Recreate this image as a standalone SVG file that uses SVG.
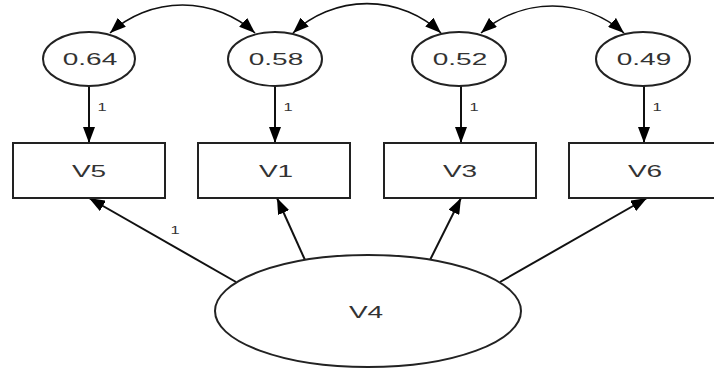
<svg xmlns="http://www.w3.org/2000/svg" width="714" height="368" viewBox="0 0 714 368">
  <style>
    .node { fill: #ffffff; stroke: #222222; stroke-width: 2; }
    .lbl { font-family: "Liberation Sans", Arial, sans-serif; font-size: 16px; fill: #333333; text-anchor: middle; }
    .small { font-family: "Liberation Sans", Arial, sans-serif; font-size: 11px; fill: #333333; text-anchor: middle; }
    .edge { fill: none; stroke: #111111; stroke-width: 2; }
    .cov { fill: none; stroke: #111111; stroke-width: 1.6; }
  </style>
  <defs>
    <marker id="arrow" viewBox="0 0 16 12" refX="16" refY="6" markerWidth="16" markerHeight="12" markerUnits="userSpaceOnUse" orient="auto-start-reverse">
      <path d="M0,0 L16,6 L0,12 Z" fill="#000000"/>
    </marker>
  </defs>

  <!-- connectors -->
  <g id="connectors">
    <!-- covariances between error terms -->
    <path class="cov" d="M110,33 A108,108 0 0 1 255,33" marker-start="url(#arrow)" marker-end="url(#arrow)"/>
    <path class="cov" d="M293,33 A108,108 0 0 1 441,33" marker-start="url(#arrow)" marker-end="url(#arrow)"/>
    <path class="cov" d="M481,33 A108,108 0 0 1 624,33" marker-start="url(#arrow)" marker-end="url(#arrow)"/>
    <!-- error terms to indicators -->
    <line class="edge" x1="89" y1="86" x2="89" y2="143" marker-end="url(#arrow)"/>
    <line class="edge" x1="275" y1="86" x2="275" y2="143" marker-end="url(#arrow)"/>
    <line class="edge" x1="461" y1="86" x2="461" y2="143" marker-end="url(#arrow)"/>
    <line class="edge" x1="644" y1="86" x2="644" y2="143" marker-end="url(#arrow)"/>
    <!-- latent factor to indicators -->
    <line class="edge" x1="236" y1="282" x2="89" y2="198" marker-end="url(#arrow)"/>
    <line class="edge" x1="305" y1="260" x2="277" y2="198" marker-end="url(#arrow)"/>
    <line class="edge" x1="430" y1="260" x2="461" y2="198" marker-end="url(#arrow)"/>
    <line class="edge" x1="500" y1="282" x2="647" y2="198" marker-end="url(#arrow)"/>
    <!-- loading labels -->
    <text class="small" transform="translate(102,111) scale(1.5,1)">1</text>
    <text class="small" transform="translate(288,111) scale(1.5,1)">1</text>
    <text class="small" transform="translate(474,111) scale(1.5,1)">1</text>
    <text class="small" transform="translate(657,111) scale(1.5,1)">1</text>
    <text class="small" transform="translate(175,234) scale(1.5,1)">1</text>
  </g>

  <!-- error terms -->
  <g id="e5">
    <ellipse class="node" cx="89" cy="59" rx="46" ry="27"/>
    <text class="lbl" transform="translate(90,65) scale(1.75,1)">0.64</text>
  </g>
  <g id="e1">
    <ellipse class="node" cx="275" cy="59" rx="47" ry="27"/>
    <text class="lbl" transform="translate(276,65) scale(1.75,1)">0.58</text>
  </g>
  <g id="e3">
    <ellipse class="node" cx="459" cy="59" rx="47" ry="27"/>
    <text class="lbl" transform="translate(460,65) scale(1.75,1)">0.52</text>
  </g>
  <g id="e6">
    <ellipse class="node" cx="643" cy="59" rx="47" ry="27"/>
    <text class="lbl" transform="translate(644,65) scale(1.75,1)">0.49</text>
  </g>

  <!-- observed indicators -->
  <g id="V5">
    <rect class="node" x="13" y="143" width="152" height="55"/>
    <text class="lbl" transform="translate(89,177) scale(1.75,1)">V5</text>
  </g>
  <g id="V1">
    <rect class="node" x="198" y="143" width="152" height="55"/>
    <text class="lbl" transform="translate(276,177) scale(1.75,1)">V1</text>
  </g>
  <g id="V3">
    <rect class="node" x="384" y="143" width="152" height="55"/>
    <text class="lbl" transform="translate(460,177) scale(1.75,1)">V3</text>
  </g>
  <g id="V6">
    <rect class="node" x="569" y="143" width="152" height="55"/>
    <text class="lbl" transform="translate(645,177) scale(1.75,1)">V6</text>
  </g>

  <!-- latent factor -->
  <g id="V4">
    <ellipse class="node" cx="368" cy="311" rx="153" ry="56"/>
    <text class="lbl" transform="translate(366,318) scale(1.75,1)">V4</text>
  </g>
</svg>
